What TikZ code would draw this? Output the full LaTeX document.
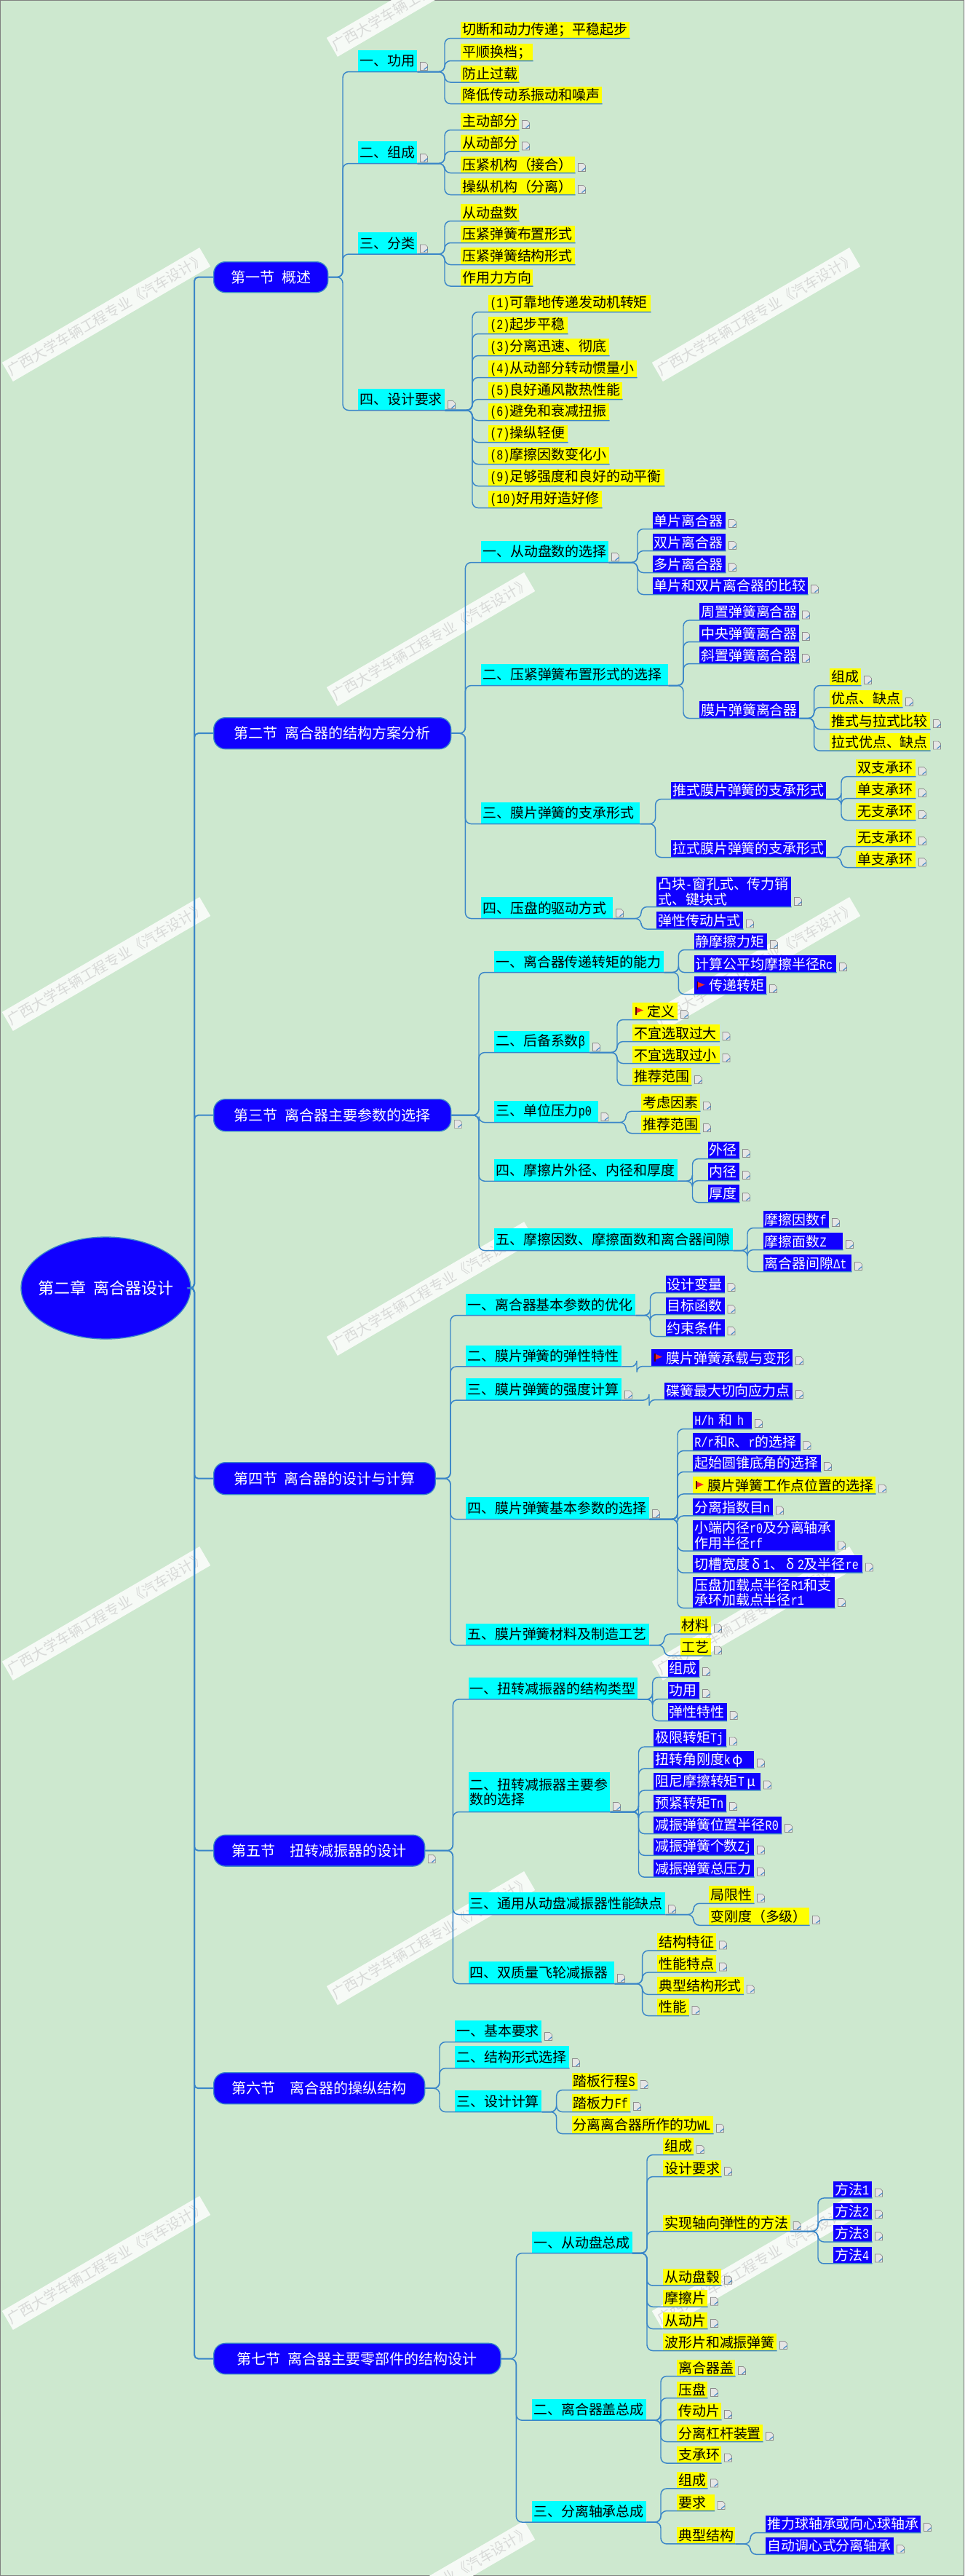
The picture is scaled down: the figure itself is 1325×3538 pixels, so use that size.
\documentclass[tikz,border=0pt]{standalone}
\usepackage{fontspec}
\setmainfont{Noto Sans CJK SC}[WordSpace=2.2]
\newfontfamily\mlf{Liberation Mono}[FakeStretch=0.8]
\newcommand{\ml}[1]{{\mlf #1}}
\newcommand{\gk}[1]{\makebox[1em][c]{#1}}
\usetikzlibrary{calc,shapes.geometric}
\definecolor{pagebg}{HTML}{CDE8CF}
\definecolor{linkc}{HTML}{3A86C8}
\definecolor{nblue}{HTML}{1000FF}
\definecolor{ncyan}{HTML}{00FFFF}
\definecolor{nyellow}{HTML}{FFFF00}
\definecolor{flagred}{HTML}{F02828}
\definecolor{stripc}{HTML}{F6FAF6}
\definecolor{wmtext}{HTML}{D8DAD8}
\tikzset{
  link/.style={draw=linkc,line width=1.1pt,rounded corners=6pt},
  rootlink/.style={draw=linkc,line width=1.5pt,rounded corners=4pt},
  tnode/.style={rectangle,anchor=north west,inner xsep=1.5pt,inner ysep=0pt,align=left,
     font=\fontsize{14.2}{15.4}\selectfont},
  yel/.style={fill=nyellow,text=black},
  cya/.style={fill=ncyan,text=black},
  blu/.style={fill=nblue,text=white},
  secnode/.style={rectangle,rounded corners=12pt,draw=linkc,line width=1pt,fill=nblue,text=white,
     anchor=north west,inner sep=0pt,align=center,font=\fontsize{15}{17}\selectfont},
  rootnode/.style={ellipse,draw=linkc,line width=1pt,fill=nblue,text=white,inner sep=0pt,
     minimum width=174.75pt,minimum height=105pt,font=\fontsize{16.5}{18}\selectfont},
  wm/.style={rectangle,rotate=30.2,fill=stripc,text=wmtext,minimum width=235.5pt,minimum height=22.5pt,
     inner sep=0pt,font=\fontsize{14.6}{16}\selectfont},
  icb/.style={draw=black!45,line width=.5pt,fill=black!10},
  icp/.style={draw=linkc,line width=.8pt},
}
\newcommand{\nd}[7]{\node[tnode,#6,minimum height={(#5-#3)*.75pt},text width={(#4-#2)*.75pt-3pt}] (#1) at (#2,#3) {#7};}
\newcommand{\ic}[2][2]{\begin{scope}[shift={($(#2.south east)+(4,-#1)$)}]
  \path[icb] (0,0) -- (0,-11) -- (7,-11) -- (10,-8) -- (10,0) -- cycle;
  \path[icp] (5,-1) -- (10,-5);
\end{scope}}
\newcommand{\ndi}[7]{\nd{#1}{#2}{#3}{#4}{#5}{#6}{#7}\ic{#1}}
\newcommand{\sect}[6]{\node[secnode,minimum width={(#4-#2)*.75pt},minimum height={(#5-#3)*.75pt}] (#1) at (#2,#3) {#6};}
\newcommand{\flg}[1]{\begin{scope}[shift={($(#1.south west)+(4,-2)$)}]
  \fill[flagred] (1,-15) -- (11,-11) -- (1,-7) -- cycle;
  \draw[black!65!red,line width=.8pt] (1,-16) -- (1,-5);
\end{scope}}
\newcommand{\fsp}{\hspace*{14pt}}
% parent, trunk x, children (parent's underline feeds the trunk)
\newcommand{\lks}[3]{\coordinate (T-#1) at (#2,0);
  \foreach \cc in {#3}{\draw[link] (#1.south east) -- (T-#1 |- #1.south east) -- (T-#1 |- \cc.south west) -- (\cc.south west) -- (\cc.south east);}}
% section parent: leaves from the east side
\newcommand{\lke}[3]{\coordinate (T-#1) at (#2,0);
  \foreach \cc in {#3}{\draw[link] (#1.east) -- (T-#1 |- #1.east) -- (T-#1 |- \cc.south west) -- (\cc.south west) -- (\cc.south east);}}
\begin{document}
\begin{tikzpicture}[x=.75pt,y=-.75pt]
\useasboundingbox (0,0) rectangle (1325,3538);
\clip (0,0) rectangle (1325,3538);
\fill[pagebg] (0,0) rectangle (1325,3538);
\draw[black!50,line width=1.2pt] (0,0) rectangle (1325,3538);
\foreach \x/\y [count=\i] in {592/-14,146/432,1039/432,592/878,146/1324,1039/1324,592/1770,146/2216,1039/2216,592/2662,146/3108,1039/3108,592/3554}
  \node[wm] (w\i) at (\x,\y) {广西大学车辆工程专业《汽车设计》};

% root and sections
\node[rootnode] (root) at (145.5,1769) {\makebox[0pt][c]{第二章 离合器设计}};
\sect{s1}{293}{359}{450}{401}{第一节 概述}
\sect{s2}{293}{985}{619}{1028}{第二节 离合器的结构方案分析}
\sect{s3}{293}{1509}{619}{1553}{第三节 离合器主要参数的选择}\ic[5]{s3}
\sect{s4}{293}{2008}{597.6}{2052}{第四节 离合器的设计与计算}
\sect{s5}{293}{2519.6}{583}{2562.4}{第五节\ \ 扭转减振器的设计}\ic[5]{s5}
\sect{s6}{293}{2846}{583}{2889}{第六节\ \ 离合器的操纵结构}
\sect{s7}{293}{3217.7}{687.4}{3260}{第七节 离合器主要零部件的结构设计}
\coordinate (T0) at (267,0);
\foreach \s in {s1,s2,s3,s4,s5,s6,s7}
  \draw[rootlink] (root.east) -- (T0 |- root.east) -- (T0 |- \s.west) -- (\s.west);

% section 1
\ndi{s1a}{492}{69}{573}{98}{cya}{一、功用}
\ndi{s1b}{492}{194}{573}{224}{cya}{二、组成}
\ndi{s1c}{492}{319}{573}{348.5}{cya}{三、分类}
\ndi{s1d}{492}{534}{611}{563}{cya}{四、设计要求}
\nd{s1a1}{633}{30}{865}{52}{yel}{切断和动力传递；平稳起步}
\nd{s1a2}{633}{60}{732}{83}{yel}{平顺换档；}
\nd{s1a3}{633}{89.5}{713}{112.5}{yel}{防止过载}
\nd{s1a4}{633}{119}{827}{142}{yel}{降低传动系振动和噪声}
\ndi{s1b1}{633}{155}{713}{178}{yel}{主动部分}
\ndi{s1b2}{633}{185}{713}{207.5}{yel}{从动部分}
\ndi{s1b3}{633}{215}{790}{237}{yel}{压紧机构（接合）}
\ndi{s1b4}{633}{245}{790}{267}{yel}{操纵机构（分离）}
\nd{s1c1}{633}{280}{713}{303}{yel}{从动盘数}
\nd{s1c2}{633}{310}{790}{333}{yel}{压紧弹簧布置形式}
\nd{s1c3}{633}{340}{790}{363}{yel}{压紧弹簧结构形式}
\nd{s1c4}{633}{370}{732}{392.5}{yel}{作用力方向}
\nd{s1d1}{671}{405}{894}{428}{yel}{\ml{(1)}可靠地传递发动机转矩}
\nd{s1d2}{671}{435}{780}{458}{yel}{\ml{(2)}起步平稳}
\nd{s1d3}{671}{465}{837}{488}{yel}{\ml{(3)}分离迅速、彻底}
\nd{s1d4}{671}{495}{875}{518}{yel}{\ml{(4)}从动部分转动惯量小}
\nd{s1d5}{671}{525}{855}{548}{yel}{\ml{(5)}良好通风散热性能}
\nd{s1d6}{671}{554}{837}{577}{yel}{\ml{(6)}避免和衰减扭振}
\nd{s1d7}{671}{584}{780}{607}{yel}{\ml{(7)}操纵轻便}
\nd{s1d8}{671}{614}{837}{637}{yel}{\ml{(8)}摩擦因数变化小}
\nd{s1d9}{671}{644}{913}{667}{yel}{\ml{(9)}足够强度和良好的动平衡}
\nd{s1d10}{671}{674}{827}{697}{yel}{\ml{(10)}好用好造好修}
\lke{s1}{471}{s1a,s1b,s1c,s1d}
\lks{s1a}{611}{s1a1,s1a2,s1a3,s1a4}
\lks{s1b}{611}{s1b1,s1b2,s1b3,s1b4}
\lks{s1c}{611}{s1c1,s1c2,s1c3,s1c4}
\lks{s1d}{649}{s1d1,s1d2,s1d3,s1d4,s1d5,s1d6,s1d7,s1d8,s1d9,s1d10}

% section 2
\ndi{s2a}{661}{742.4}{836}{772}{cya}{一、从动盘数的选择}
\nd{s2b}{661}{912}{918}{941}{cya}{二、压紧弹簧布置形式的选择}
\nd{s2c}{661}{1101.6}{879}{1131}{cya}{三、膜片弹簧的支承形式}
\ndi{s2d}{661}{1232}{842}{1261}{cya}{四、压盘的驱动方式}
\ndi{s2a1}{896.5}{703}{997}{726}{blu}{单片离合器}
\ndi{s2a2}{896.5}{733}{997}{756}{blu}{双片离合器}
\ndi{s2a3}{896.5}{763}{997}{786}{blu}{多片离合器}
\ndi{s2a4}{896.5}{792.6}{1110}{816}{blu}{单片和双片离合器的比较}
\ndi{s2b1}{961}{828}{1098}{851.4}{blu}{周置弹簧离合器}
\ndi{s2b2}{961}{858}{1098}{881}{blu}{中央弹簧离合器}
\ndi{s2b3}{961}{888}{1098}{911}{blu}{斜置弹簧离合器}
\nd{s2b4}{961}{963}{1098}{986}{blu}{膜片弹簧离合器}
\ndi{s2e1}{1140}{918}{1183}{941}{yel}{组成}
\ndi{s2e2}{1140}{948}{1240}{971}{yel}{优点、缺点}
\ndi{s2e3}{1140}{978}{1278}{1001}{yel}{推式与拉式比较}
\ndi{s2e4}{1140}{1007}{1278}{1030.6}{yel}{拉式优点、缺点}
\nd{s2c1}{922}{1073.5}{1135}{1097}{blu}{推式膜片弹簧的支承形式}
\nd{s2c2}{922}{1154}{1135}{1177}{blu}{拉式膜片弹簧的支承形式}
\ndi{s2f1}{1176}{1043}{1258}{1066}{yel}{双支承环}
\ndi{s2f2}{1176}{1073}{1258}{1096}{yel}{单支承环}
\ndi{s2f3}{1176}{1103}{1258}{1126}{yel}{无支承环}
\ndi{s2g1}{1176}{1139}{1258}{1162}{yel}{无支承环}
\ndi{s2g2}{1176}{1168.6}{1258}{1191}{yel}{单支承环}
\ndi{s2d1}{902}{1203.7}{1087}{1245}{blu}{凸块\ml{-}窗孔式、传力销\\式、键块式}
\ndi{s2d2}{902}{1252}{1021}{1275.5}{blu}{弹性传动片式}
\lke{s2}{639.4}{s2a,s2b,s2c,s2d}
\lks{s2a}{876}{s2a1,s2a2,s2a3,s2a4}
\lks{s2b}{939}{s2b1,s2b2,s2b3,s2b4}
\lks{s2b4}{1118.6}{s2e1,s2e2,s2e3,s2e4}
\lks{s2c}{900.6}{s2c1,s2c2}
\lks{s2c1}{1156}{s2f1,s2f2,s2f3}
\lks{s2c2}{1156}{s2g1,s2g2}
\lks{s2d}{881}{s2d1,s2d2}

% section 3
\nd{s3a}{679}{1306}{912}{1335}{cya}{一、离合器传递转矩的能力}
\ndi{s3b}{679}{1416}{810}{1445}{cya}{二、后备系数\ml{β}}
\ndi{s3c}{679}{1511.7}{821.4}{1541}{cya}{三、单位压力\ml{p0}}
\nd{s3d}{679}{1592}{931}{1621.7}{cya}{四、摩擦片外径、内径和厚度}
\nd{s3e}{679}{1687}{1007}{1717}{cya}{五、摩擦因数、摩擦面数和离合器间隙}
\ndi{s3a1}{953.4}{1282}{1054}{1304}{blu}{静摩擦力矩}
\ndi{s3a2}{953.4}{1312}{1149}{1335}{blu}{计算公平均摩擦半径\ml{Rc}}
\ndi{s3a3}{953.4}{1341}{1053}{1365}{blu}{\fsp 传递转矩}\flg{s3a3}
\ndi{s3b1}{869}{1377}{931}{1400}{yel}{\fsp 定义}\flg{s3b1}
\ndi{s3b2}{869}{1407}{988.5}{1430}{yel}{不宜选取过大}
\ndi{s3b3}{869}{1437}{988.5}{1460}{yel}{不宜选取过小}
\ndi{s3b4}{869}{1467}{950}{1490}{yel}{推荐范围}
\ndi{s3c1}{881}{1502}{962}{1525.7}{yel}{考虑因素}
\ndi{s3c2}{881}{1532}{962}{1556}{yel}{推荐范围}
\ndi{s3d1}{972.6}{1567.7}{1016}{1591}{blu}{外径}
\ndi{s3d2}{972.6}{1597}{1016}{1621}{blu}{内径}
\ndi{s3d3}{972.6}{1627}{1016}{1651}{blu}{厚度}
\ndi{s3e1}{1048.5}{1663}{1139}{1686}{blu}{摩擦因数\ml{f}}
\ndi{s3e2}{1048.5}{1693}{1158}{1716}{blu}{摩擦面数\ml{Z}}
\ndi{s3e3}{1048.5}{1723}{1170}{1746}{blu}{离合器间隙\ml{Δt}}
\lke{s3}{658}{s3a,s3b,s3c,s3d,s3e}
\lks{s3a}{932.4}{s3a1,s3a2,s3a3}
\lks{s3b}{848}{s3b1,s3b2,s3b3,s3b4}
\lks{s3c}{860}{s3c1,s3c2}
\lks{s3d}{951.5}{s3d1,s3d2,s3d3}
\lks{s3e}{1027}{s3e1,s3e2,s3e3}

% section 4
\nd{s4a}{640}{1777}{873}{1806}{cya}{一、离合器基本参数的优化}
\nd{s4b}{640}{1847.5}{854}{1876.4}{cya}{二、膜片弹簧的弹性特性}
\ndi{s4c}{640}{1893}{854}{1922.5}{cya}{三、膜片弹簧的强度计算}
\ndi{s4d}{640}{2056}{892}{2086}{cya}{四、膜片弹簧基本参数的选择}
\nd{s4e}{640}{2229.6}{892}{2259}{cya}{五、膜片弹簧材料及制造工艺}
\ndi{s4a1}{914.5}{1752}{995.5}{1775}{blu}{设计变量}
\ndi{s4a2}{914.5}{1782}{995.5}{1805}{blu}{目标函数}
\ndi{s4a3}{914.5}{1812}{995.5}{1835}{blu}{约束条件}
\ndi{s4b1}{895}{1853}{1089}{1876}{blu}{\fsp 膜片弹簧承载与变形}\flg{s4b1}
\ndi{s4c1}{913}{1898.6}{1089}{1922}{blu}{碟簧最大切向应力点}
\ndi{s4d1}{952}{1938.6}{1033}{1962}{blu}{\ml{H/h} 和 \ml{h}}
\ndi{s4d2}{952}{1968}{1099.5}{1992}{blu}{\ml{R/r}和\ml{R}、\ml{r}的选择}
\ndi{s4d3}{952}{1998}{1128}{2021}{blu}{起始圆锥底角的选择}
\ndi{s4d4}{952}{2028}{1203}{2051.4}{yel}{\fsp 膜片弹簧工作点位置的选择}\flg{s4d4}
\ndi{s4d5}{952}{2058}{1062}{2081.4}{blu}{分离指数目\ml{n}}
\ndi{s4d6}{952}{2087.5}{1147}{2129.6}{blu}{小端内径\ml{r0}及分离轴承\\作用半径\ml{rf}}
\ndi{s4d7}{952}{2136}{1185}{2159.6}{blu}{切槽宽度\gk{δ}\ml{1}、\gk{δ}\ml{2}及半径\ml{re}}
\ndi{s4d8}{952}{2166}{1147}{2208}{blu}{压盘加载点半径\ml{R1}和支\\承环加载点半径\ml{r1}}
\ndi{s4e1}{934.3}{2220}{977}{2243.6}{yel}{材料}
\ndi{s4e2}{934.3}{2250}{977}{2273.6}{yel}{工艺}
\lke{s4}{619}{s4a,s4b,s4c,s4d,s4e}
\lks{s4a}{893.5}{s4a1,s4a2,s4a3}
\lks{s4b}{875}{s4b1}
\lks{s4c}{892}{s4c1}
\lks{s4d}{931}{s4d1,s4d2,s4d3,s4d4,s4d5,s4d6,s4d7,s4d8}
\lks{s4e}{912.6}{s4e1,s4e2}

% section 5
\nd{s5a}{643.5}{2304}{876}{2333.4}{cya}{一、扭转减振器的结构类型}
\ndi{s5b}{643.5}{2434}{838}{2488}{cya}{二、扭转减振器主要参\\数的选择}
\ndi{s5c}{643.5}{2599}{914}{2629}{cya}{三、通用从动盘减振器性能缺点}
\ndi{s5d}{643.5}{2694}{844}{2724}{cya}{四、双质量飞轮减振器}
\ndi{s5a1}{917.7}{2280}{961}{2303}{blu}{组成}
\ndi{s5a2}{917.7}{2310}{961}{2333}{blu}{功用}
\ndi{s5a3}{917.7}{2339}{998.7}{2363}{blu}{弹性特性}
\ndi{s5b1}{898}{2375}{998}{2398.6}{blu}{极限转矩\ml{Tj}}
\ndi{s5b2}{898}{2405}{1036}{2428.5}{blu}{扭转角刚度\ml{k}\gk{φ}}
\ndi{s5b3}{898}{2435}{1045}{2458.4}{blu}{阻尼摩擦转矩\ml{T}\gk{μ}}
\ndi{s5b4}{898}{2464.6}{998}{2488}{blu}{预紧转矩\ml{Tn}}
\ndi{s5b5}{898}{2494.6}{1074}{2518}{blu}{减振弹簧位置半径\ml{R0}}
\ndi{s5b6}{898}{2524.5}{1036}{2547.7}{blu}{减振弹簧个数\ml{Zj}}
\ndi{s5b7}{898}{2554}{1036}{2577.6}{blu}{减振弹簧总压力}
\ndi{s5c1}{974}{2590}{1036}{2613.7}{yel}{局限性}
\ndi{s5c2}{974}{2619.5}{1112}{2643.7}{yel}{变刚度（多级）}
\ndi{s5d1}{903}{2655}{984}{2678.5}{yel}{结构特征}
\ndi{s5d2}{903}{2684.7}{984}{2708.4}{yel}{性能特点}
\ndi{s5d3}{903}{2715}{1021.7}{2738.8}{yel}{典型结构形式}
\ndi{s5d4}{903}{2744.6}{946.4}{2768}{yel}{性能}
\lke{s5}{622.4}{s5a,s5b,s5c,s5d}
\lks{s5a}{896.7}{s5a1,s5a2,s5a3}
\lks{s5b}{877.5}{s5b1,s5b2,s5b3,s5b4,s5b5,s5b6,s5b7}
\lks{s5c}{953}{s5c1,s5c2}
\lks{s5d}{882.7}{s5d1,s5d2,s5d3,s5d4}

% section 6
\ndi{s6a}{625}{2774.5}{744}{2804}{cya}{一、基本要求}
\ndi{s6b}{625}{2810}{782}{2840}{cya}{二、结构形式选择}
\nd{s6c}{625}{2871}{744}{2900}{cya}{三、设计计算}
\ndi{s6c1}{785.7}{2846.8}{875.6}{2870}{yel}{踏板行程\ml{S}}
\ndi{s6c2}{785.7}{2876}{866}{2900}{yel}{踏板力\ml{Ff}}
\ndi{s6c3}{785.7}{2906}{980}{2930}{yel}{分离离合器所作的功\ml{WL}}
\lke{s6}{604}{s6a,s6b,s6c}
\lks{s6c}{764.7}{s6c1,s6c2,s6c3}

% section 7
\nd{s7a}{731}{3065}{868.4}{3094}{cya}{一、从动盘总成}
\nd{s7b}{731}{3294.5}{888}{3323.6}{cya}{二、离合器盖总成}
\nd{s7c}{731}{3434.5}{888}{3463.5}{cya}{三、分离轴承总成}
\ndi{s7a1}{911}{2936}{952.7}{2959}{yel}{组成}
\ndi{s7a2}{911}{2966.4}{991}{2989}{yel}{设计要求}
\ndi{s7a3}{911}{3041.7}{1085.7}{3064}{yel}{实现轴向弹性的方法}
\ndi{s7a4}{911}{3116}{991}{3138.6}{yel}{从动盘毂}
\ndi{s7a5}{911}{3145}{972}{3167.7}{yel}{摩擦片}
\ndi{s7a6}{911}{3175.4}{972}{3198}{yel}{从动片}
\ndi{s7a7}{911}{3205}{1067}{3228}{yel}{波形片和减振弹簧}
\ndi{s7f1}{1145}{2996}{1198}{3018.4}{blu}{方法\ml{1}}
\ndi{s7f2}{1145}{3025.8}{1198}{3048}{blu}{方法\ml{2}}
\ndi{s7f3}{1145}{3055.6}{1198}{3078.5}{blu}{方法\ml{3}}
\ndi{s7f4}{1145}{3086}{1198}{3108.4}{blu}{方法\ml{4}}
\ndi{s7b1}{930}{3240.6}{1010}{3263}{yel}{离合器盖}
\ndi{s7b2}{930}{3270.8}{972}{3293}{yel}{压盘}
\ndi{s7b3}{930}{3300}{991}{3323}{yel}{传动片}
\ndi{s7b4}{930}{3330}{1048}{3353}{yel}{分离杠杆装置}
\ndi{s7b5}{930}{3360}{991}{3382.5}{yel}{支承环}
\ndi{s7c1}{930}{3395}{972}{3417.4}{yel}{组成}
\ndi{s7c2}{930}{3425.5}{981.5}{3448}{yel}{要求}
\nd{s7c3}{930}{3471}{1010}{3493.4}{yel}{典型结构}
\ndi{s7g1}{1052}{3454.6}{1265}{3478}{blu}{推力球轴承或向心球轴承}
\ndi{s7g2}{1052}{3484.5}{1228}{3507.7}{blu}{自动调心式分离轴承}
\lke{s7}{709.3}{s7a,s7b,s7c}
\lks{s7a}{889}{s7a1,s7a2,s7a3,s7a4,s7a5,s7a6,s7a7}
\lks{s7a3}{1124}{s7f1,s7f2,s7f3,s7f4}
\lks{s7b}{908}{s7b1,s7b2,s7b3,s7b4,s7b5}
\lks{s7c}{908}{s7c1,s7c2,s7c3}
\lks{s7c3}{1031}{s7g1,s7g2}
\end{tikzpicture}
\end{document}
